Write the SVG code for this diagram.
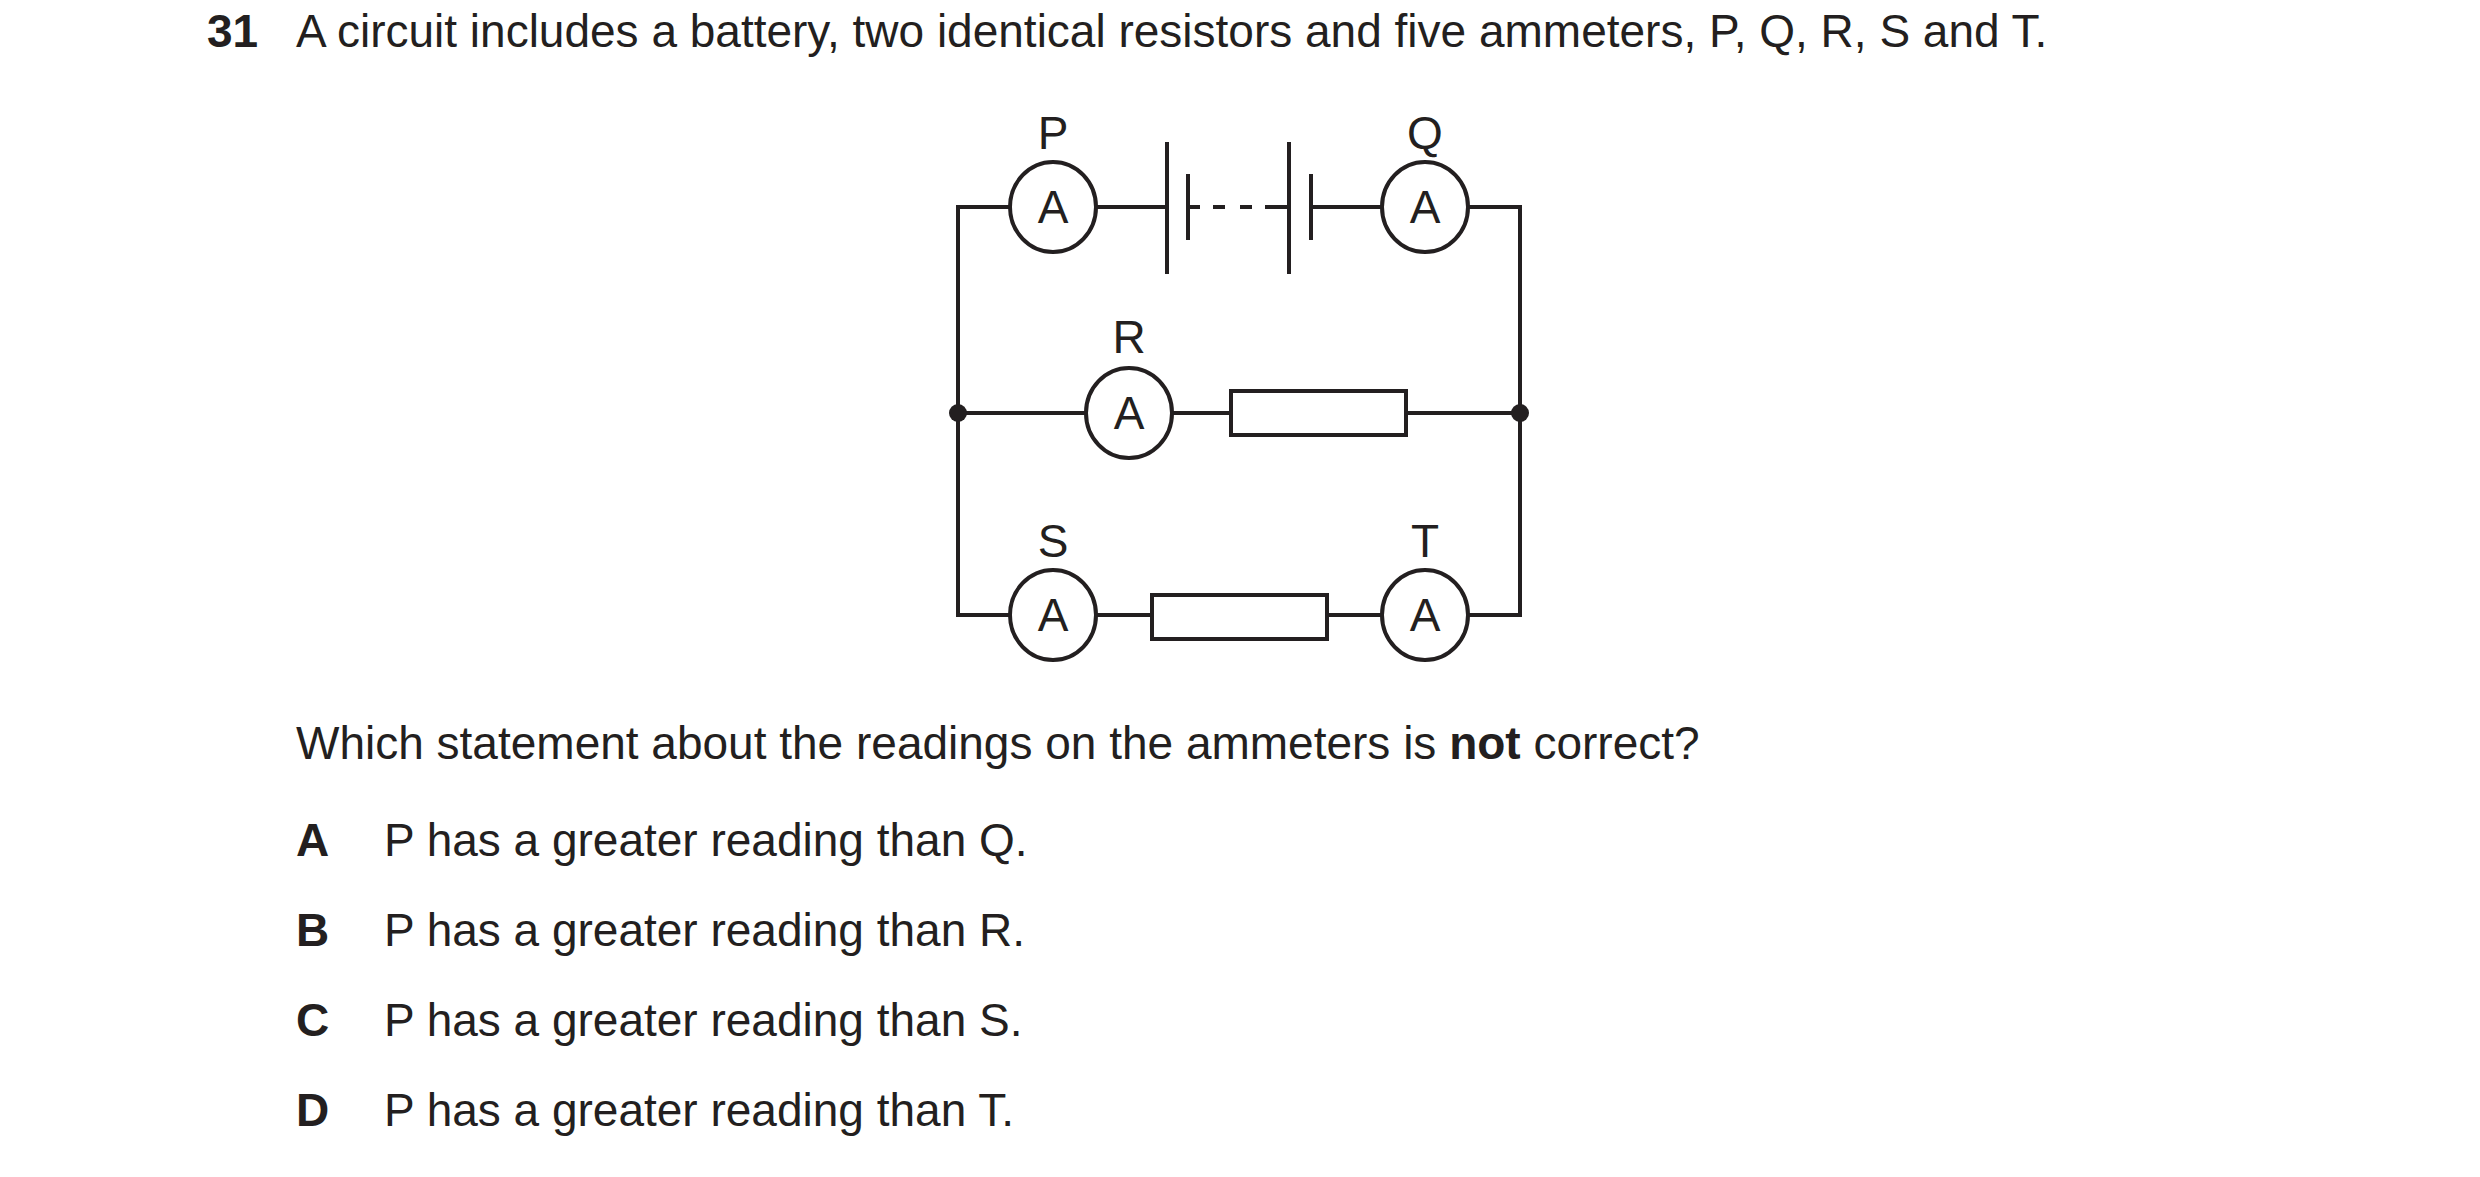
<svg xmlns="http://www.w3.org/2000/svg" width="2480" height="1177" viewBox="0 0 2480 1177">
<style>
text{font-family:"Liberation Sans",Arial,sans-serif;font-size:46px;fill:#231f20}
.b{font-weight:bold}
.w{stroke:#231f20;stroke-width:4;fill:none}
.m{stroke:#231f20;stroke-width:4;fill:#fff}
.l{text-anchor:middle}
</style>
<rect width="2480" height="1177" fill="#fff"/>
<text x="207" y="47" class="b">31</text>
<text x="296" y="47">A circuit includes a battery, two identical resistors and five ammeters, P, Q, R, S and T.</text>
<g id="connectors">
<path class="w" d="M1010 207H958V615H1010M1096 207H1167M1188 207h12M1213 207h12M1240 207h12M1265 207h12M1311 207H1382M1468 207H1520V615H1468M958 413H1086M1172 413H1231M1406 413H1520M1096 615H1152M1327 615H1382"/>
<circle cx="958" cy="413" r="9" fill="#231f20"/>
<circle cx="1520" cy="413" r="9" fill="#231f20"/>
</g>
<g id="battery">
<path class="w" d="M1167 142V274M1188 174V240M1289 142V274M1311 174V240M1277 207h12"/>
</g>
<g id="P"><ellipse class="m" cx="1053" cy="207" rx="43" ry="45"/><text x="1053" y="223" class="l">A</text><text x="1053" y="149" class="l">P</text></g>
<g id="Q"><ellipse class="m" cx="1425" cy="207" rx="43" ry="45"/><text x="1425" y="223" class="l">A</text><text x="1425" y="149" class="l">Q</text></g>
<g id="R"><ellipse class="m" cx="1129" cy="413" rx="43" ry="45"/><text x="1129" y="429" class="l">A</text><text x="1129" y="353" class="l">R</text></g>
<g id="S"><ellipse class="m" cx="1053" cy="615" rx="43" ry="45"/><text x="1053" y="631" class="l">A</text><text x="1053" y="557" class="l">S</text></g>
<g id="T"><ellipse class="m" cx="1425" cy="615" rx="43" ry="45"/><text x="1425" y="631" class="l">A</text><text x="1425" y="557" class="l">T</text></g>
<g id="resistor1"><rect class="m" x="1231" y="391" width="175" height="44"/></g>
<g id="resistor2"><rect class="m" x="1152" y="595" width="175" height="44"/></g>
<text x="296" y="759">Which statement about the readings on the ammeters is <tspan class="b">not</tspan> correct?</text>
<text x="296" y="856" class="b">A</text><text x="384" y="856">P has a greater reading than Q.</text>
<text x="296" y="946" class="b">B</text><text x="384" y="946">P has a greater reading than R.</text>
<text x="296" y="1036" class="b">C</text><text x="384" y="1036">P has a greater reading than S.</text>
<text x="296" y="1126" class="b">D</text><text x="384" y="1126">P has a greater reading than T.</text>
</svg>
